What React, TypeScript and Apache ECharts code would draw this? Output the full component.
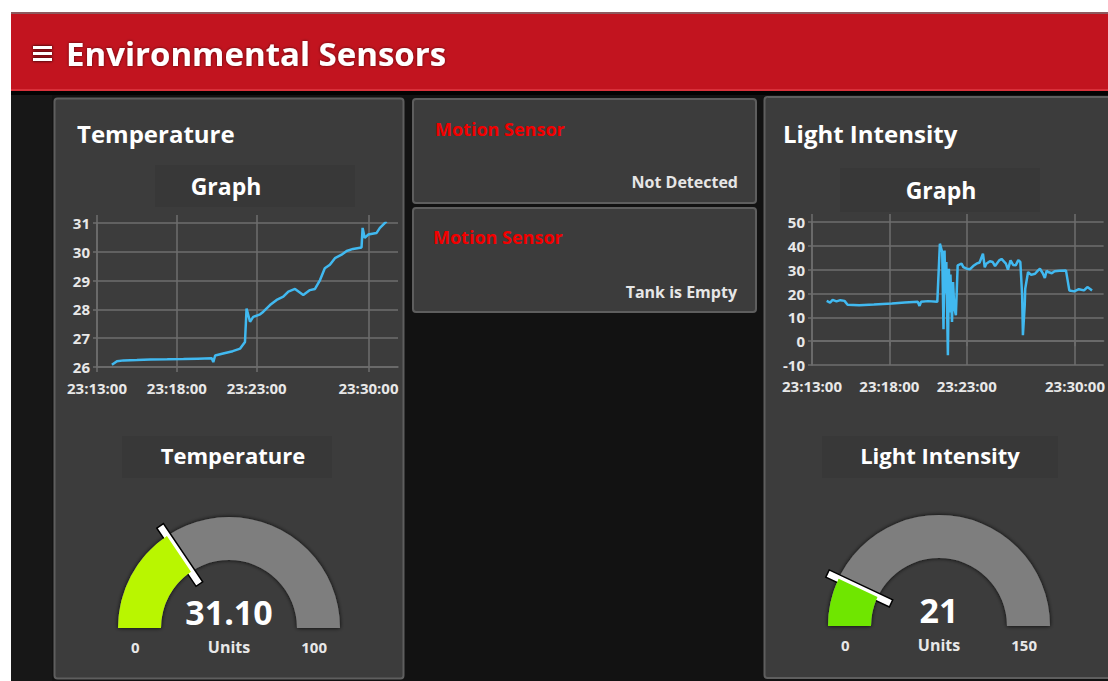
import React, { useEffect, useRef } from "react";
import * as echarts from "echarts";

// ---------- data ----------
const tickTimes = ["23:13:00", "23:18:00", "23:23:00", "23:30:00"];

const tempTimes = [
  "23:13:56", "23:14:15", "23:14:40", "23:15:30", "23:16:20", "23:17:24", "23:18:25", "23:19:18",
  "23:20:11", "23:20:17", "23:20:24", "23:20:54", "23:21:30", "23:21:58", "23:22:16", "23:22:22",
  "23:22:35", "23:22:47", "23:23:13", "23:23:25", "23:23:50", "23:24:15", "23:24:40", "23:24:59",
  "23:25:24", "23:25:55", "23:26:20", "23:26:39", "23:26:58", "23:27:16", "23:27:35", "23:27:54",
  "23:28:19", "23:28:38", "23:29:02", "23:29:34", "23:29:38", "23:29:46", "23:29:59", "23:30:30",
  "23:30:43", "23:31:08",
];
const tempValues = [
  26.08, 26.2, 26.23, 26.24, 26.26, 26.27, 26.28, 26.29,
  26.3, 26.17, 26.4, 26.47, 26.55, 26.64, 26.87, 28.03,
  27.57, 27.74, 27.83, 27.92, 28.15, 28.33, 28.44, 28.62,
  28.71, 28.5, 28.67, 28.71, 29.02, 29.43, 29.55, 29.78,
  29.9, 30.03, 30.1, 30.15, 30.83, 30.48, 30.6, 30.65,
  30.83, 31.06,
];

const lightTimes = [
  "23:13:57", "23:14:10", "23:14:20", "23:14:35", "23:14:50", "23:15:06", "23:15:18", "23:16:03",
  "23:17:00", "23:18:10", "23:19:00", "23:19:50", "23:19:57", "23:20:03", "23:20:30", "23:21:06",
  "23:21:16", "23:21:25", "23:21:30", "23:21:34", "23:21:38", "23:21:41", "23:21:47", "23:21:51",
  "23:21:54", "23:21:57", "23:22:03", "23:22:07", "23:22:12", "23:22:18", "23:22:25", "23:22:40",
  "23:22:47", "23:23:00", "23:23:13", "23:23:25", "23:23:38", "23:23:50", "23:24:03", "23:24:10",
  "23:24:16", "23:24:30", "23:24:41", "23:24:50", "23:25:06", "23:25:15", "23:25:32", "23:25:40",
  "23:25:50", "23:26:00", "23:26:10", "23:26:20", "23:26:28", "23:26:35", "23:26:38", "23:26:45",
  "23:26:47", "23:26:58", "23:27:10", "23:27:25", "23:27:35", "23:27:44", "23:27:55", "23:28:03",
  "23:28:10", "23:28:16", "23:28:30", "23:28:41", "23:29:00", "23:29:25", "23:29:38", "23:29:57",
  "23:30:15", "23:30:35", "23:30:48", "23:31:00", "23:31:06",
];
const lightValues = [
  16.9, 16.2, 17.3, 16.7, 17.2, 16.9, 15.3, 15.1,
  15.4, 15.8, 16.2, 16.5, 14.8, 16.5, 16.8, 16.5,
  40.9, 37.4, 5.0, 38, 20, 33.2, -5.9, 30.4,
  12, 28, 8.1, 24.8, 14, 10.9, 31.8, 32.5,
  31.1, 30.4, 30.2, 31.5, 32.5, 33, 36.7, 31,
  32.5, 33.5, 33.2, 31.5, 33.9, 34.5, 32.5, 30,
  33.9, 32, 31.8, 34, 33.2, 19.3, 2.5, 15,
  22.0, 29.0, 27.8, 28.3, 29.5, 30.4, 28.5, 26.5,
  29.5, 29.0, 28.5, 29.3, 29.5, 29.7, 21.3, 20.9,
  21.8, 21.3, 22.7, 21.8, 21.3,
];

const tempGauge = { value: 31.1, min: 0, max: 100, unit: "Units" };
const lightGauge = { value: 21, min: 0, max: 150, unit: "Units" };

const motionCards = [
  { title: "Motion Sensor", status: "Not Detected" },
  { title: "Motion Sensor", status: "Tank is Empty" },
];

// ---------- helpers ----------
const toMin = (t: string) => {
  const [h, m, s] = t.split(":").map(Number);
  return (h - 23) * 60 + m + s / 60;
};
const fmtMin = (v: number) => {
  const m = Math.floor(v + 1e-6);
  const s = Math.round((v - m) * 60);
  return `23:${String(m).padStart(2, "0")}:${String(s).padStart(2, "0")}`;
};
const tickMins = tickTimes.map(toMin);
const tempData = tempTimes.map((t, i) => [toMin(t), tempValues[i]]);
const lightData = lightTimes.map((t, i) => [toMin(t), lightValues[i]]);

const FONT = "'Open Sans', 'Noto Sans', sans-serif";
const GRIDC = "#6e6e6e";
const LABELC = "#e8e8e8";
const LINEC = "#41b9f0";

function xAxes(gridIndex: number) {
  return [
    {
      type: "value",
      gridIndex,
      min: toMin("23:13:00"),
      max: toMin("23:31:51"),
      axisLine: { show: true, lineStyle: { color: GRIDC, width: 1.5 } },
      axisTick: { show: true, customValues: tickMins, length: 5, lineStyle: { color: GRIDC, width: 1.5 } },
      axisLabel: {
        customValues: tickMins,
        formatter: (v: number) => fmtMin(v),
        color: LABELC,
        fontSize: 15,
        fontWeight: "bold",
        fontFamily: FONT,
        margin: 13,
      },
      splitLine: { show: true, lineStyle: { color: GRIDC, width: 1.5 } },
    },
    {
      type: "value",
      gridIndex,
      position: "top",
      min: toMin("23:13:00"),
      max: toMin("23:31:51"),
      axisLine: { show: false },
      axisTick: { show: true, customValues: tickMins, length: 8, lineStyle: { color: GRIDC, width: 1.5 } },
      axisLabel: { show: false },
      splitLine: { show: false },
    },
  ];
}

function yAxis(gridIndex: number, min: number, max: number, interval: number) {
  return {
    type: "value",
    gridIndex,
    min,
    max,
    interval,
    axisLine: { show: true, lineStyle: { color: GRIDC, width: 1.5 } },
    axisTick: { show: true, length: 4, lineStyle: { color: GRIDC, width: 1.5 } },
    axisLabel: { color: LABELC, fontSize: 15, fontWeight: "bold", fontFamily: FONT, margin: 7 },
    splitLine: { show: true, lineStyle: { color: GRIDC, width: 1.5 } },
  };
}

const needle = "path://M0,0 L10,0 L10,57 L0,57 Z M5,100 L5,100 Z";

function gauge(g: any, center: number[], color: string, digits: number) {
  return {
    type: "gauge",
    center,
    radius: 111,
    startAngle: 180,
    endAngle: 0,
    min: g.min,
    max: g.max,
    splitNumber: 1,
    axisLine: {
      lineStyle: { width: 43, color: [[1, "#7e7e7e"]], shadowBlur: 4, shadowColor: "rgba(0,0,0,0.9)" },
    },
    progress: { show: true, width: 43, itemStyle: { color } },
    pointer: {
      show: true,
      icon: needle,
      length: "111%",
      width: 8,
      itemStyle: { color: "#ffffff", borderColor: "#000000", borderWidth: 1.5 },
    },
    anchor: { show: false },
    axisTick: { show: false },
    splitLine: { show: false, length: 0, distance: 0 },
    axisLabel: {
      distance: 13,
      color: LABELC,
      fontSize: 15,
      fontWeight: "bold",
      fontFamily: FONT,
      lineHeight: 38,
      formatter: (v: number) => "\n" + v,
    },
    title: { offsetCenter: [0, 19], color: LABELC, fontSize: 16, fontWeight: "bold", fontFamily: FONT },
    detail: {
      offsetCenter: [0, -16],
      color: "#ffffff",
      fontSize: 34,
      fontWeight: "bold",
      fontFamily: FONT,
      formatter: (v: number) => v.toFixed(digits),
    },
    data: [{ value: g.value, name: g.unit }],
  };
}

function panel(x: number, y: number, w: number, h: number) {
  return {
    type: "rect",
    shape: { x, y, width: w, height: h, r: 3 },
    style: { fill: "#3c3c3c", stroke: "#5e5e5e", lineWidth: 2 },
    z: 0,
  };
}

function txt(text: string, x: number, y: number, size: number, fill: string, align = "left", weight: any = "bold") {
  return {
    type: "text",
    x,
    y,
    style: { text, fill, fontSize: size, fontWeight: weight, fontFamily: FONT, align, verticalAlign: "middle" },
    z: 5,
  };
}

function box(x: number, y: number, w: number, h: number) {
  return { type: "rect", shape: { x, y, width: w, height: h }, style: { fill: "#383838" }, z: 1 };
}

export default function App() {
  const ref = useRef<HTMLDivElement>(null);
  useEffect(() => {
    if (!ref.current) return;
    const chart = echarts.init(ref.current, null, { renderer: "svg" });
    const graphics: any[] = [
      { type: "rect", shape: { x: 11, y: 13, width: 1097, height: 78 }, style: { fill: "#c2141f" }, z: 0 },
      { type: "rect", shape: { x: 11, y: 12, width: 1097, height: 2 }, style: { fill: "#8d5a5e" }, z: 0 },
      { type: "rect", shape: { x: 11, y: 89, width: 1097, height: 2 }, style: { fill: "#d8303a" }, z: 0 },
      { type: "rect", shape: { x: 11, y: 91, width: 1097, height: 590 }, style: { fill: "#121212" }, z: 0 },
      { type: "rect", shape: { x: 11, y: 91, width: 1097, height: 4 }, style: { fill: "#030303" }, z: 0 },
      { type: "rect", shape: { x: 11, y: 95, width: 41, height: 586 }, style: { fill: "#171717" }, z: 0 },
      { type: "rect", shape: { x: 33, y: 46, width: 19, height: 3 }, style: { fill: "#fff", shadowBlur: 3, shadowColor: "#000" }, z: 5 },
      { type: "rect", shape: { x: 33, y: 52, width: 19, height: 3 }, style: { fill: "#fff", shadowBlur: 3, shadowColor: "#000" }, z: 5 },
      { type: "rect", shape: { x: 33, y: 58, width: 19, height: 3 }, style: { fill: "#fff", shadowBlur: 3, shadowColor: "#000" }, z: 5 },
      {
        type: "text",
        x: 66,
        y: 53,
        style: {
          text: "Environmental Sensors",
          fill: "#ffffff",
          fontSize: 33,
          fontWeight: "bold",
          fontFamily: FONT,
          verticalAlign: "middle",
          textShadowBlur: 3,
          textShadowColor: "rgba(0,0,0,0.6)",
        },
        z: 5,
      },
      panel(54.5, 98.5, 349, 580),
      panel(413, 99, 343, 104),
      panel(413, 208, 343, 104),
      panel(764.5, 97, 360, 581),
      box(155, 165, 200, 42),
      box(840, 168, 200, 44),
      box(122, 436, 210, 42),
      box(822, 436, 236, 42),
      txt("Temperature", 77, 133, 24, "#ffffff"),
      txt("Graph", 226, 186, 23, "#ffffff", "center"),
      txt("Temperature", 233, 455, 22, "#ffffff", "center"),
      txt("Light Intensity", 783, 133, 24, "#ffffff"),
      txt("Graph", 941, 190, 23, "#ffffff", "center"),
      txt("Light Intensity", 940, 455, 22, "#ffffff", "center"),
      txt(motionCards[0].title, 435, 129, 18, "#f20000"),
      txt(motionCards[0].status, 738, 182, 16, "#e6e6e6", "right"),
      txt(motionCards[1].title, 433, 237, 18, "#f20000"),
      txt(motionCards[1].status, 737, 292, 16, "#e6e6e6", "right"),
    ];

    chart.setOption({
      animation: false,
      backgroundColor: "#ffffff",
      graphic: graphics,
      grid: [
        { left: 97, top: 223, width: 301, height: 144 },
        { left: 812, top: 222, width: 301, height: 143 },
      ],
      xAxis: [...xAxes(0), ...xAxes(1)],
      yAxis: [yAxis(0, 26, 31, 1), yAxis(1, -10, 50, 10)],
      series: [
        {
          type: "line",
          xAxisIndex: 0,
          yAxisIndex: 0,
          data: tempData,
          showSymbol: false,
          lineStyle: { color: LINEC, width: 2.5 },
          z: 3,
        },
        {
          type: "line",
          xAxisIndex: 2,
          yAxisIndex: 1,
          data: lightData,
          showSymbol: false,
          lineStyle: { color: LINEC, width: 2.5 },
          z: 3,
        },
        gauge(tempGauge, [229, 628], "#b9f600", 2),
        gauge(lightGauge, [939, 626], "#6fe600", 0),
      ],
    });
    return () => chart.dispose();
  }, []);
  return (
    <div
      ref={ref}
      style={{ position: "fixed", left: 0, top: 0, width: 1108, height: 681 }}
    />
  );
}
